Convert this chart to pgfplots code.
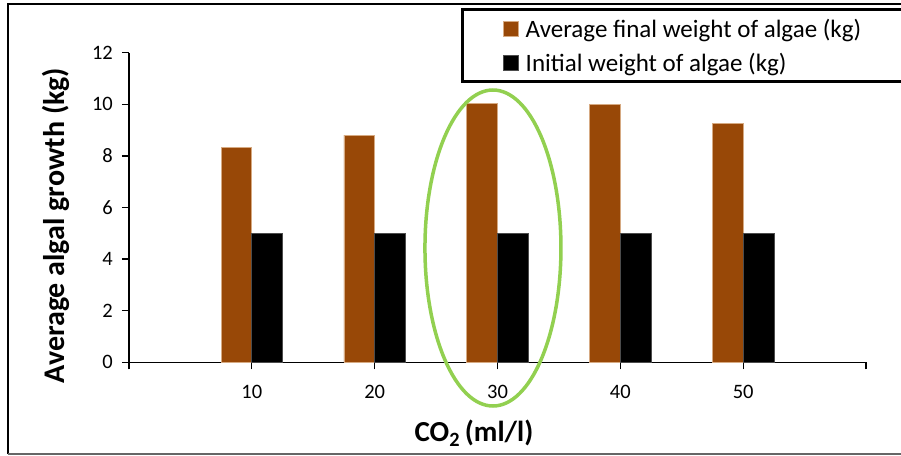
\documentclass[border=0pt]{standalone}
\usepackage{pgfplots}
\pgfplotsset{compat=1.18}
\usepackage{fontspec}
\setmainfont{Carlito}

\definecolor{algaebrown}{RGB}{152,72,7}
\definecolor{algaeedge}{RGB}{214,170,130}
\definecolor{ringgreen}{RGB}{146,208,80}

\begin{document}
\begin{tikzpicture}[x=1pt,y=1pt]
\useasboundingbox (0,0) rectangle (901,455);
\clip (0,0) rectangle (901,455);
% outer chart frame
\draw[black, line width=1.3pt] (8,1) -- (8,451) -- (905,451);
\draw[black!60, line width=1.3pt] (8,1) -- (905,1);

\begin{axis}[
  at={(129pt,92.7pt)}, anchor=south west,
  scale only axis, width=737pt, height=309.6pt,
  xmin=0, xmax=6, ymin=0, ymax=12,
  axis lines*=left,
  axis line style={black, line width=1.5pt},
  xtick={0,1,2,3,4,5,6},
  xticklabels={,10,20,30,40,50,},
  ytick={0,2,4,6,8,10,12},
  tick align=outside,
  major tick length=7pt,
  tick style={black, line width=1.3pt},
  /pgf/number format/assume math mode=true,
  ticklabel style={font=\fontsize{20.5}{24}\selectfont},
  yticklabel style={inner sep=0pt, xshift=-9pt},
  xticklabel style={inner sep=0pt, yshift=-16pt},
  ybar=0pt, bar width=30.7pt,
  clip=false,
  xlabel={CO\textsubscript{2}\,(ml/l)},
  ylabel={Average algal growth (kg)},
  xlabel style={font=\bfseries\fontsize{29}{34}\selectfont,
    at={(axis description cs:0.468,-0.228)}, anchor=center},
  ylabel style={font=\bfseries\fontsize{30}{34}\selectfont,
    at={(axis description cs:-0.0997,0.442)}, anchor=center, rotate=0},
  legend style={draw=none, fill=none, inner sep=0pt, outer sep=0pt,
    at={(axis description cs:0.5075,1.109)}, anchor=north west,
    font=\fontsize{25}{30}\selectfont, row sep=14pt,
    nodes={inner sep=0pt, anchor=west},
    /tikz/every odd column/.append style={column sep=7pt}},
  legend cell align=left,
  legend image code/.code={\path[#1] (0pt,-7.5pt) rectangle (15pt,7.5pt);},
]
\addplot[fill=algaebrown, draw=algaeedge, line width=0.7pt] coordinates
  {(1,8.34) (2,8.81) (3,10.05) (4,10.00) (5,9.26)};
\addlegendentry{Average final weight of algae (kg)}
\addplot[fill=black, draw=black!70, line width=0.7pt] coordinates
  {(1,5) (2,5) (3,5) (4,5) (5,5)};
\addlegendentry{Initial weight of algae (kg)}
% highlight ring around the 30 ml/l group
\draw[ringgreen, line width=3.5pt] (axis cs:2.963,4.43) ellipse [x radius=68pt, y radius=158pt];
\end{axis}

% legend frame
\draw[black, line width=3pt] (462,445) rectangle (915,373);
\end{tikzpicture}
\end{document}
